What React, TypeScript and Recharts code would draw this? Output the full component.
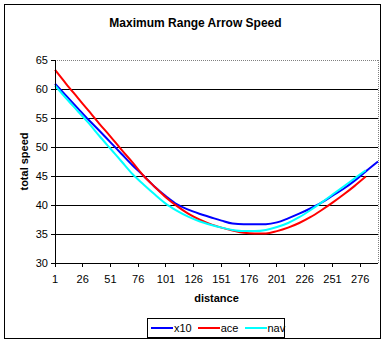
import React from 'react';
import {
  LineChart, Line, XAxis, YAxis, CartesianGrid, ReferenceLine, Label
} from 'recharts';

// distance samples (every 10, last one only for x10)
const distance = [
  1, 11, 21, 31, 41, 51, 61, 71, 81, 91, 101, 111, 121, 131, 141, 151,
  161, 171, 181, 191, 201, 211, 221, 231, 241, 251, 261, 271, 281, 292,
];

const x10 = [
  60.9, 58.85, 56.8, 54.75, 52.8, 50.8, 48.8, 46.8, 45.0, 43.1, 41.5, 40.1,
  39.2, 38.5, 37.9, 37.3, 36.8, 36.7, 36.7, 36.7, 37.0, 37.7, 38.5, 39.4,
  40.4, 41.6, 42.8, 44.2, 45.8, 47.5,
];

const ace = [
  63.3, 60.9, 58.6, 56.3, 54.0, 51.8, 49.5, 47.3, 45.0, 43.1, 41.3, 39.8,
  38.5, 37.5, 36.7, 36.1, 35.6, 35.2, 35.1, 35.1, 35.5, 36.1, 36.9, 37.9,
  39.1, 40.4, 41.8, 43.3, 44.9,
];

const nav = [
  60.6, 58.4, 56.3, 54.2, 51.9, 49.7, 47.5, 45.3, 43.5, 41.8, 40.2, 39.0,
  38.0, 37.2, 36.6, 36.1, 35.7, 35.5, 35.5, 35.7, 36.2, 36.9, 37.9, 39.1,
  40.4, 41.8, 43.2, 44.6, 46.0,
];

const xTicks = [1, 26, 51, 76, 101, 126, 151, 176, 201, 226, 251, 276];
const yTicks = [30, 35, 40, 45, 50, 55, 60, 65];
const gridValues = [35, 40, 45, 50, 55, 60];

const series = [
  { key: 'x10', color: '#0000ff' },
  { key: 'ace', color: '#ff0000' },
  { key: 'nav', color: '#00ffff' },
];

const data = distance.map((d, i) => ({
  d,
  x10: x10[i],
  ace: ace[i],
  nav: nav[i],
}));

const font = '"Liberation Sans", Arial, sans-serif';

const App: React.FC = () => {
  return (
    <div style={{ position: 'absolute', left: 0, top: 0, width: 391, height: 346, background: '#fff', fontFamily: font }}>
      <div style={{ position: 'absolute', left: 4, top: 4, width: 377, height: 335, border: '1px solid #000', boxSizing: 'border-box' }} />
      <div style={{ position: 'absolute', left: 0, top: 16, width: 391, textAlign: 'center', fontSize: 12, lineHeight: '14px', fontWeight: 'bold' }}>
        Maximum Range Arrow Speed
      </div>

      <div style={{ position: 'absolute', left: 0, top: 0 }}>
        <LineChart width={391} height={346} data={data} margin={{ top: 60, right: 13, left: 0, bottom: 53 }}>
          <CartesianGrid vertical={false} stroke="#000" strokeWidth={1} horizontalValues={gridValues} shapeRendering="crispEdges" />
          <ReferenceLine y={65} stroke="#808080" strokeDasharray="1 1" shapeRendering="crispEdges" />
          <ReferenceLine x={292} stroke="#808080" strokeDasharray="1 1" shapeRendering="crispEdges" />
          <XAxis
            dataKey="d"
            type="number"
            domain={[1, 292]}
            ticks={xTicks}
            interval={0}
            height={30}
            tickSize={4}
            tickMargin={8}
            stroke="#000"
            shapeRendering="crispEdges"
            tick={{ fill: '#000', fontSize: 11, fontFamily: font }}
          >
            <Label
              content={() => (
                <text x={216.5} y={302} textAnchor="middle" fontSize={11} fontWeight="bold" fontFamily={font} fill="#000">
                  distance
                </text>
              )}
            />
          </XAxis>
          <YAxis
            type="number"
            domain={[30, 65]}
            ticks={yTicks}
            interval={0}
            width={55}
            tickSize={4}
            tickMargin={3}
            stroke="#000"
            shapeRendering="crispEdges"
            tick={{ fill: '#000', fontSize: 11, fontFamily: font }}
          >
            <Label
              content={() => (
                <text x={28} y={161.5} transform="rotate(-90 28 161.5)" textAnchor="middle" fontSize={11} fontWeight="bold" fontFamily={font} fill="#000">
                  total speed
                </text>
              )}
            />
          </YAxis>
          {series.map((s) => (
            <Line
              key={s.key}
              dataKey={s.key}
              type="monotone"
              stroke={s.color}
              strokeWidth={2}
              dot={false}
              activeDot={false}
              isAnimationActive={false}
              connectNulls={false}
            />
          ))}
        </LineChart>
      </div>

      <div style={{ position: 'absolute', left: 147, top: 318, width: 138, height: 20, border: '1px solid #000', boxSizing: 'border-box', display: 'flex', alignItems: 'center', paddingLeft: 3, fontSize: 11 }}>
        {series.map((s) => (
          <div key={s.key} style={{ display: 'flex', alignItems: 'center', marginRight: 6 }}>
            <div style={{ width: 22, height: 2, background: s.color }} />
            <span style={{ marginLeft: 1 }}>{s.key}</span>
          </div>
        ))}
      </div>
    </div>
  );
};

export default App;
